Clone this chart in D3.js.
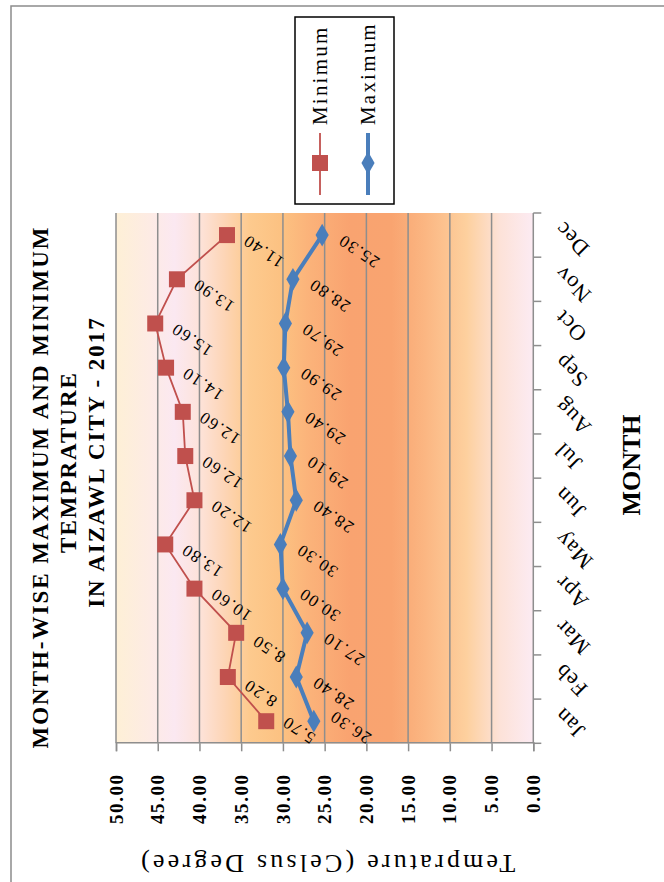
<!DOCTYPE html>
<html><head><meta charset="utf-8">
<script src="https://cdn.jsdelivr.net/npm/d3@7"></script>
<style>body{margin:0;background:#fff} svg{display:block}</style>
</head><body>
<svg id="c" width="664" height="882"></svg>
<script>
const months = ["Jan","Feb","Mar","Apr","May","Jun","Jul","Aug","Sep","Oct","Nov","Dec"];
const maxTemp = [26.30,28.40,27.10,30.00,30.30,28.40,29.10,29.40,29.90,29.70,28.80,25.30];
const minTemp = [5.70,8.20,8.50,10.60,13.80,12.20,12.60,12.60,14.10,15.60,13.90,11.40];
const yTicks = [0,5,10,15,20,25,30,35,40,45,50];
const titleLines = ["MONTH-WISE MAXIMUM AND MINIMUM","TEMPRATURE","IN AIZAWL CITY - 2017"];
const seriesNames = ["Minimum","Maximum"];
const bgStops = [[50,"#fef0d6"],[46,"#fdebe4"],[43,"#fbe8f1"],[40,"#fde3da"],[37,"#fdd5b6"],[34,"#fdca8e"],[30,"#fcc181"],[27,"#fbb37a"],[22,"#f9a370"],[17,"#f9a470"],[13,"#fbb682"],[8,"#fdd09e"],[4,"#fde2d8"],[0,"#fcebf3"]];

const FONT = "'Liberation Serif','Times New Roman',serif";
const svg = d3.select("#c");
const defs = svg.append("defs");
// chart is laid out in a landscape 882x664 frame, then turned -90deg
const g = svg.append("g").attr("transform","translate(0,882) rotate(-90)");

const plot = {x0:138.7, x1:669, y0:116, y1:533.3};
const x = d3.scaleBand().domain(months).range([plot.x0, plot.x1]);
const y = d3.scaleLinear().domain([0,50]).range([plot.y1, plot.y0]);

// chart area border
g.append("rect").attr("x",-20).attr("y",11).attr("width",896).attr("height",700)
  .attr("fill","#fff").attr("stroke","#8c8c8c").attr("stroke-width",1.5);

// background gradient
const grad = defs.append("linearGradient").attr("id","bg").attr("gradientUnits","userSpaceOnUse")
  .attr("x1",0).attr("x2",0).attr("y1",y(50)).attr("y2",y(0));
bgStops.forEach(([v,c])=>grad.append("stop").attr("offset",(50-v)/50).attr("stop-color",c));
g.append("rect").attr("x",plot.x0).attr("y",plot.y0).attr("width",plot.x1-plot.x0).attr("height",plot.y1-plot.y0)
  .attr("fill","url(#bg)");

// gridlines
g.append("g").selectAll("line").data(yTicks.filter(v=>v>0)).join("line")
  .attr("x1",plot.x0).attr("x2",plot.x1).attr("y1",d=>y(d)).attr("y2",d=>y(d))
  .attr("stroke","#8e8e8e").attr("stroke-width",1.5);

// value axis
const ya = g.append("g").attr("transform",`translate(${plot.x0},0)`)
  .call(d3.axisLeft(y).tickValues(yTicks).tickFormat(d3.format(".2f")).tickSize(8).tickPadding(22));
ya.select(".domain").attr("stroke","#8e8e8e").attr("stroke-width",1.5);
ya.selectAll(".tick line").attr("stroke","#8e8e8e").attr("stroke-width",1.5);
ya.selectAll(".tick text").attr("font-family",FONT).attr("font-weight","bold").attr("font-size",19)
  .attr("letter-spacing",1.6).attr("fill","#000");

// category axis
g.append("line").attr("x1",plot.x0).attr("x2",plot.x1).attr("y1",plot.y1).attr("y2",plot.y1)
  .attr("stroke","#8e8e8e").attr("stroke-width",1.5);
g.append("g").selectAll("line").data(d3.range(months.length+1)).join("line")
  .attr("x1",i=>plot.x0+i*x.step()).attr("x2",i=>plot.x0+i*x.step())
  .attr("y1",plot.y1).attr("y2",plot.y1+8).attr("stroke","#8e8e8e").attr("stroke-width",1.5);
g.append("g").selectAll("text").data(months).join("text")
  .attr("transform",d=>`translate(${x(d)+x.bandwidth()/2+15},${plot.y1+30}) rotate(-45)`)
  .attr("text-anchor","end").attr("font-family",FONT).attr("font-size",22).attr("letter-spacing",1)
  .text(d=>d);

// axis titles
g.append("text").attr("transform",`translate(27,${(plot.y0+plot.y1)/2+2}) rotate(-90)`)
  .attr("text-anchor","middle").attr("font-family",FONT).attr("font-size",26).attr("letter-spacing",3.2)
  .text("Temprature (Celsus Degree)");
g.append("text").attr("x",417).attr("y",640).attr("text-anchor","middle")
  .attr("font-family",FONT).attr("font-size",26).attr("font-weight","bold").text("MONTH");

// title
const titleX = [395,420,420];
g.append("g").selectAll("text").data(titleLines).join("text")
  .attr("x",(d,i)=>titleX[i]).attr("y",(d,i)=>48+i*28).attr("text-anchor","middle")
  .attr("font-family",FONT).attr("font-weight","bold").attr("font-size",23).attr("letter-spacing",2).text(d=>d);

// series (stacked: max, then min on top)
const maxPts = months.map((m,i)=>({m, v:maxTemp[i], top:maxTemp[i]}));
const minPts = months.map((m,i)=>({m, v:minTemp[i], top:maxTemp[i]+minTemp[i]}));
const cx = d=>x(d.m)+x.bandwidth()/2;
const line = d3.line().x(cx).y(d=>y(d.top));

g.append("path").datum(maxPts).attr("d",line).attr("fill","none").attr("stroke","#4a7ebb").attr("stroke-width",4);
g.append("g").selectAll("path").data(maxPts).join("path")
  .attr("d",d3.symbol(d3.symbolDiamond,150)).attr("transform",d=>`translate(${cx(d)},${y(d.top)}) rotate(90)`)
  .attr("fill","#4a7ebb");

g.append("path").datum(minPts).attr("d",line).attr("fill","none").attr("stroke","#c0504d").attr("stroke-width",1.8);
g.append("g").selectAll("rect").data(minPts).join("rect")
  .attr("x",d=>cx(d)-8).attr("y",d=>y(d.top)-8).attr("width",16).attr("height",16).attr("fill","#c0504d");

// data labels ("below" the point, rotated)
const ang = 56*Math.PI/180;
const lbl = g.append("g").attr("font-family",FONT).attr("font-size",17).attr("letter-spacing",1.5);
lbl.selectAll("text").data(maxPts.concat(minPts)).join("text")
  .attr("text-anchor","middle").attr("dominant-baseline","central").text(d=>d.v.toFixed(2))
  .each(function(d){
    const w = this.getComputedTextLength(), h = 13;
    const ext = (w*Math.sin(ang)+h*Math.cos(ang))/2;
    const extX = (w*Math.cos(ang)+h*Math.sin(ang))/2;
    const lx = Math.max(cx(d)-16, plot.x0+extX-2);
    const ly = y(d.top)+14+ext;
    d3.select(this).attr("transform",`translate(${lx},${ly}) rotate(-56)`);
  });

// legend
const lg = g.append("g");
lg.append("rect").attr("x",678).attr("y",295).attr("width",187).attr("height",99)
  .attr("fill","#fff").attr("stroke","#000").attr("stroke-width",1.5);
const items = [{n:seriesNames[0],c:"#c0504d",w:1.8,sym:"sq"},{n:seriesNames[1],c:"#4a7ebb",w:4,sym:"di"}];
items.forEach((it,i)=>{
  const yy = 320+i*48;
  lg.append("line").attr("x1",687).attr("x2",749).attr("y1",yy).attr("y2",yy).attr("stroke",it.c).attr("stroke-width",it.w);
  if(it.sym==="sq") lg.append("rect").attr("x",711).attr("y",yy-8).attr("width",16).attr("height",16).attr("fill",it.c);
  else lg.append("path").attr("d",d3.symbol(d3.symbolDiamond,150)).attr("transform",`translate(719,${yy}) rotate(90)`).attr("fill",it.c);
  lg.append("text").attr("x",757).attr("y",yy).attr("dominant-baseline","central")
    .attr("font-family",FONT).attr("font-size",21).attr("letter-spacing",2.2).text(it.n);
});
</script>
</body></html>
